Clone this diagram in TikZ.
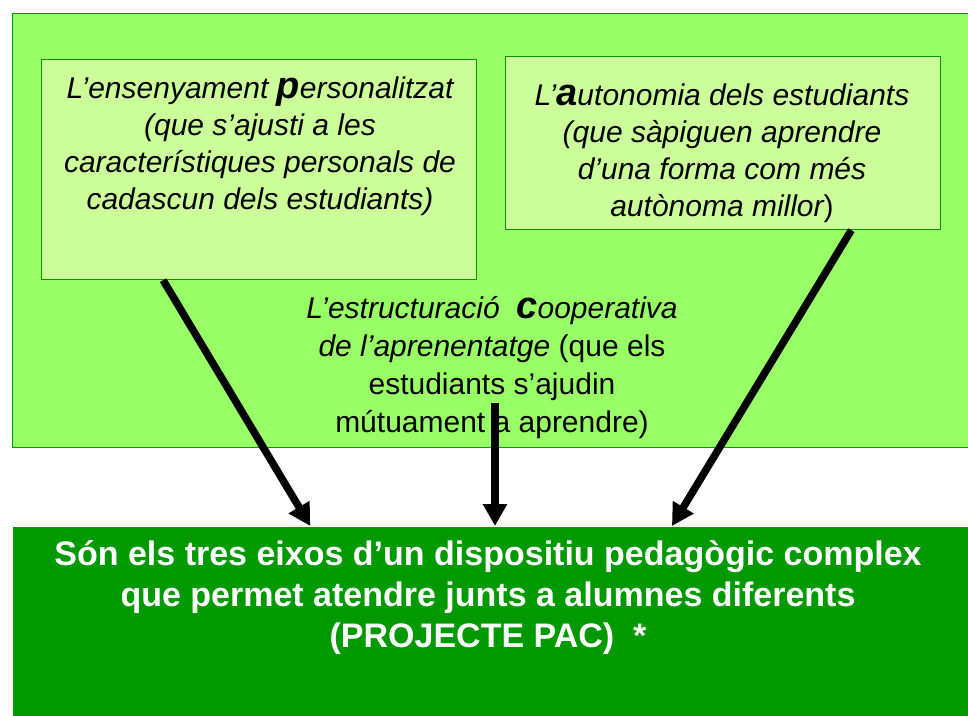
\documentclass[tikz,border=0pt]{standalone}
\usepackage{fontspec}
\setmainfont{Liberation Sans}
\usetikzlibrary{positioning}
\usetikzlibrary{arrows.meta,calc}
\definecolor{outerc}{HTML}{99FF66}
\definecolor{boxc}{HTML}{CCFF99}
\definecolor{edgec}{HTML}{009900}
\definecolor{pacc}{HTML}{009900}
\newcommand{\eixletter}[1]{{\fontsize{38}{36}\selectfont\bfseries\itshape #1}}

\begin{document}
\begin{tikzpicture}[x=1pt,y=-1pt,
  panel/.style={draw=edgec, line width=1.2pt, shape=rectangle, anchor=north west, inner sep=0pt},
  boxtext/.style={anchor=north, align=center, inner sep=0pt, font=\fontsize{30}{36.7}\selectfont\itshape},
  bigarrow/.style={line width=7.5pt, -{Triangle[width=23pt,length=22pt]}}]
\useasboundingbox (0,0) rectangle (968,715);

\node[panel, fill=outerc, minimum width=958pt, minimum height=434pt]
(outer) at (12,13) {};
\node[panel, fill=boxc, minimum width=435pt, minimum height=220pt]
(pbox) at (41,59) {};
\node[panel, fill=boxc, minimum width=435pt, minimum height=173pt]
(abox) at (504.5,56) {};
\node[panel, draw=none, fill=pacc, minimum width=958pt, minimum height=190pt]
(pac) at (12,526) {};

% textos dels tres eixos
\node[boxtext] (ptext) at (260,77)
{L’ensenyament \eixletter{p}ersonalitzat\\(que s’ajusti a les\\característiques personals de\\cadascun dels estudiants)};
\node[boxtext] (atext) at (722,84)
{L’\eixletter{a}utonomia dels estudiants\\(que sàpiguen aprendre\\d’una forma com més\\autònoma millor\upshape)};
\node[boxtext, font=\fontsize{30}{38}\selectfont\itshape] (ctext) at (492,296)
{L’estructuració\ \ \eixletter{c}ooperativa\\de l’aprenentatge \upshape(que els\\\upshape estudiants s’ajudin\\\upshape mútuament a aprendre)};
\node[boxtext, font=\fontsize{34}{41}\selectfont\bfseries, text=white] (pactext) at (488,540)
{Són els tres eixos d’un dispositiu pedagògic complex\\que permet atendre junts a alumnes diferents\\(PROJECTE PAC)\ \ *};

\coordinate (ctail) at (495,403);
\draw[bigarrow] ($(pbox.south west)!0.28!(pbox.south east)$) -- ($(pac.north west)!0.311!(pac.north east)$);
\draw[bigarrow] (ctail) -- (ctail |- pac.north);
\draw[bigarrow] ($(abox.south west)!0.795!(abox.south east)$) -- ($(pac.north west)!0.688!(pac.north east)$);

\end{tikzpicture}
\end{document}
